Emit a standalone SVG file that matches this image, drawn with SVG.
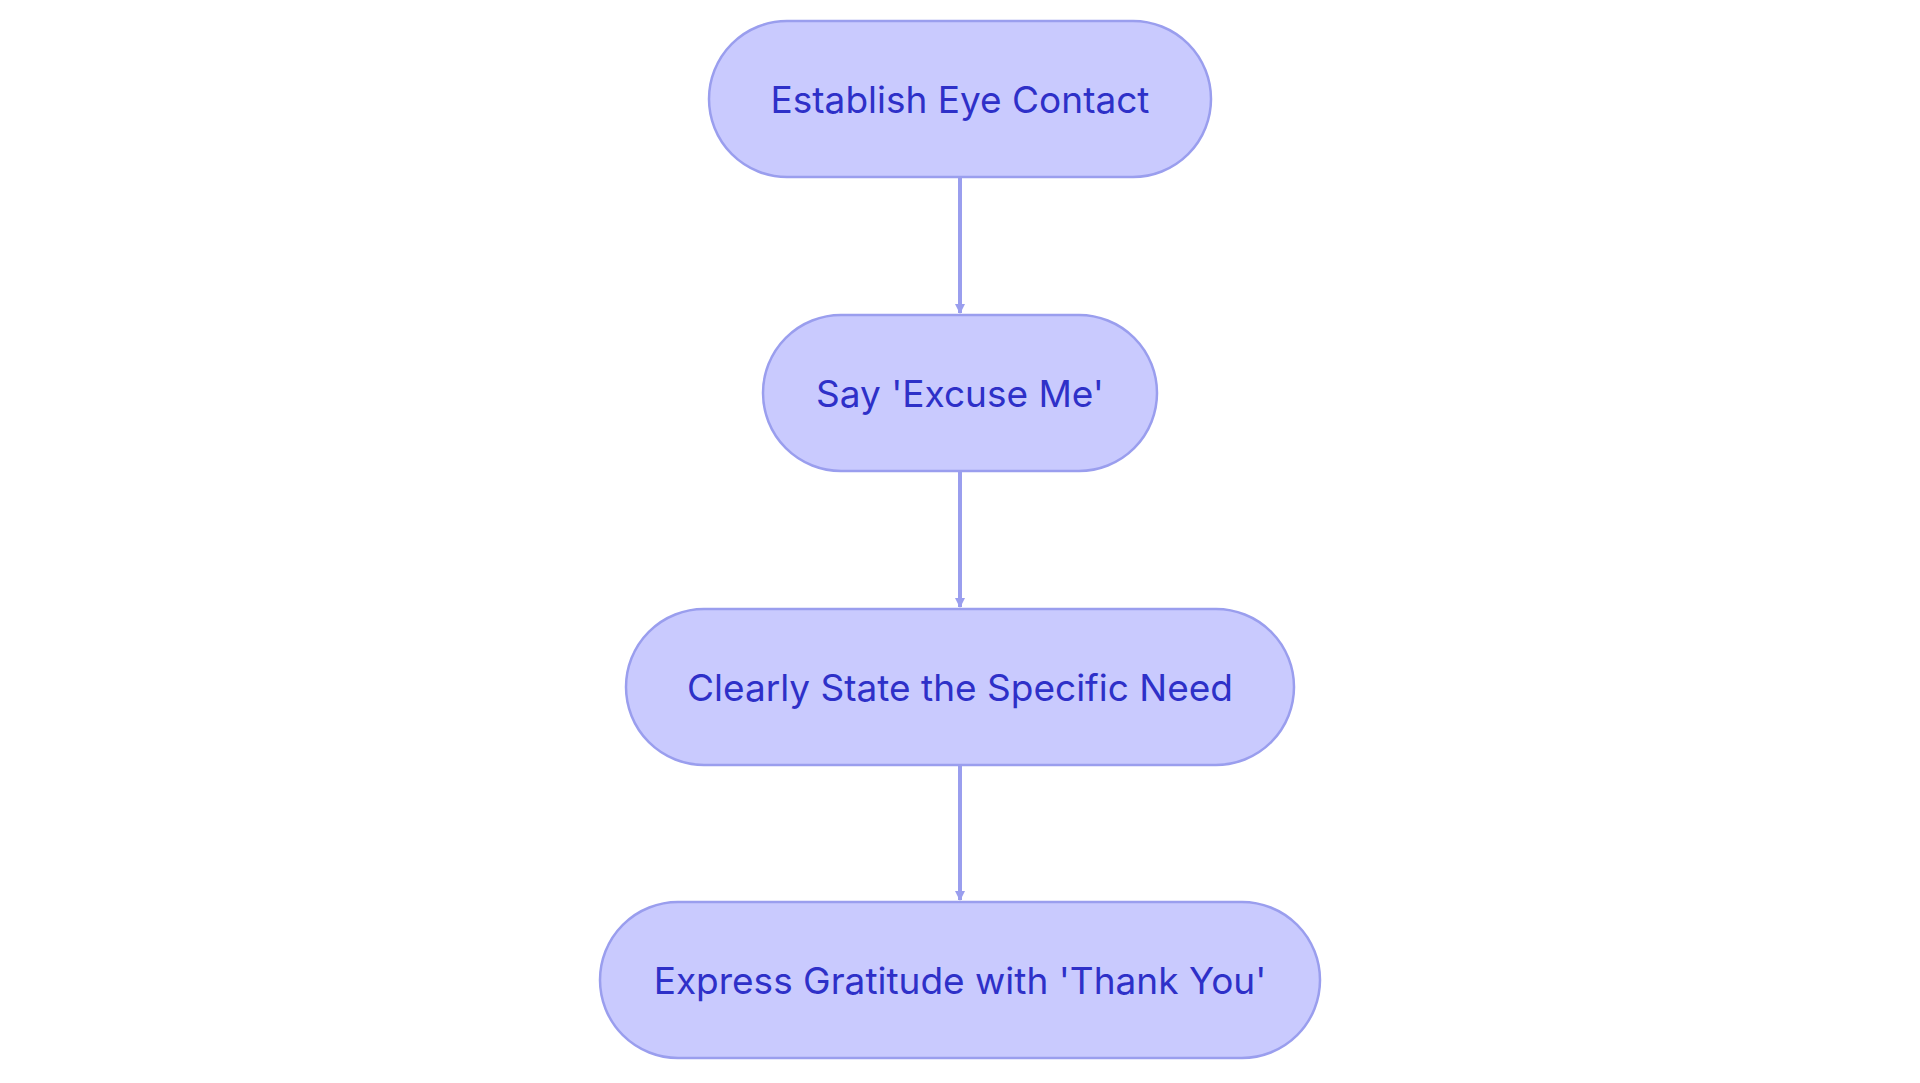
<svg xmlns="http://www.w3.org/2000/svg" width="1920" height="1083" viewBox="0 0 1920 1083">
<style>
.n{fill:#c9cafe;stroke:#9a9eee;stroke-width:2.5}
.t{font-family:Inter,"Open Sans",sans-serif;font-size:37px;fill:#2e30c8;text-anchor:middle;dominant-baseline:central}
.e{stroke:#9a9eee;stroke-width:4;fill:none}
</style>
<defs><marker id="a" markerWidth="10" markerHeight="10" refX="9" refY="5" orient="auto" markerUnits="userSpaceOnUse" viewBox="0 0 10 10"><path d="M0,0L10,5L0,10z" fill="#9a9eee"/></marker></defs>
<rect width="1920" height="1083" fill="#fff"/>
<g id="edges">
<path class="e" d="M960,178V313" marker-end="url(#a)"/>
<path class="e" d="M960,471V607" marker-end="url(#a)"/>
<path class="e" d="M960,765V900" marker-end="url(#a)"/>
</g>
<style>marker path{}</style>
<g id="n1"><rect class="n" x="709" y="21" width="502" height="156" rx="78"/><text class="t" x="960" y="99">Establish Eye Contact</text></g>
<g id="n2"><rect class="n" x="763" y="315" width="394" height="156" rx="78"/><text class="t" x="960" y="393">Say 'Excuse Me'</text></g>
<g id="n3"><rect class="n" x="626" y="609" width="668" height="156" rx="78"/><text class="t" x="960" y="687">Clearly State the Specific Need</text></g>
<g id="n4"><rect class="n" x="600" y="902" width="720" height="156" rx="78"/><text class="t" x="960" y="980">Express Gratitude with 'Thank You'</text></g>
</svg>
